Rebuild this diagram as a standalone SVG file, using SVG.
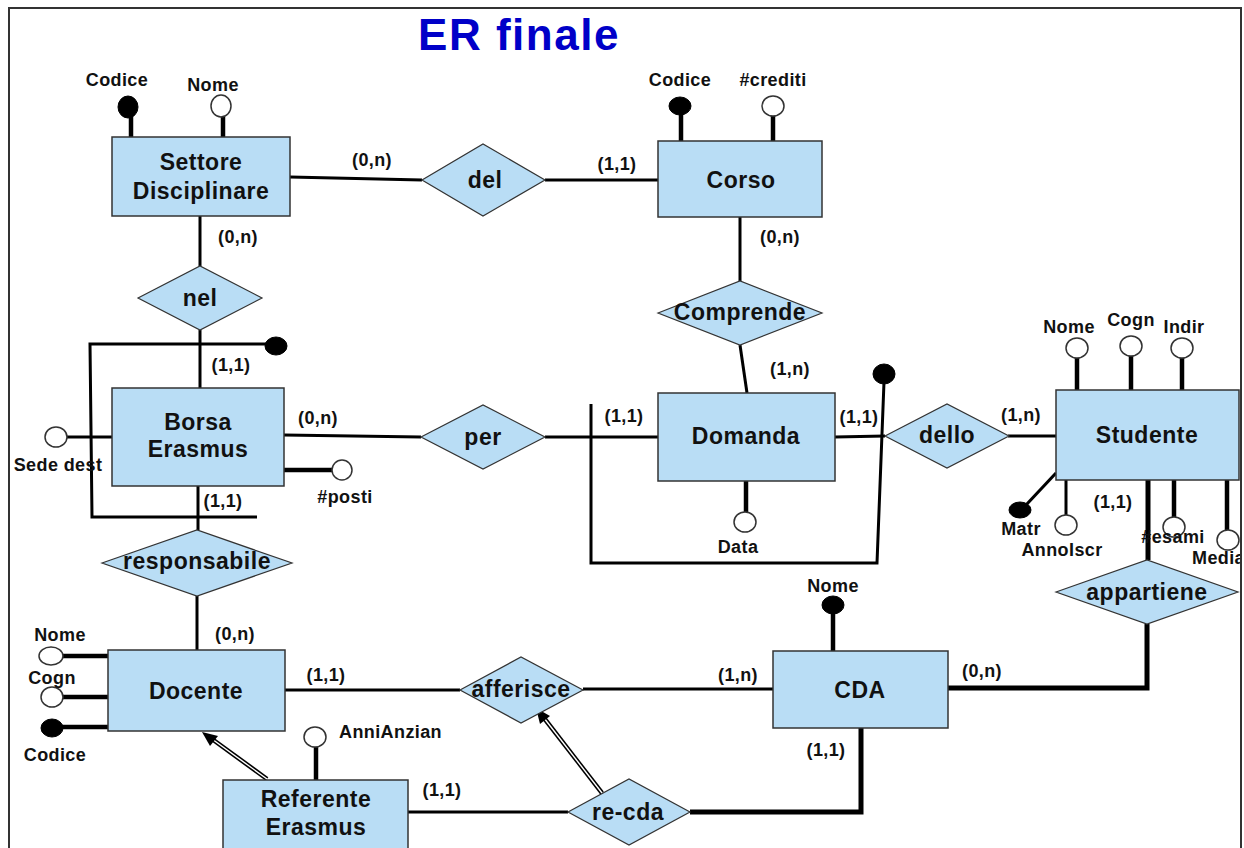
<svg xmlns="http://www.w3.org/2000/svg" width="1244" height="848" viewBox="0 0 1244 848">
<defs>
<style>
.ent{fill:#B9DDF5;stroke:#333;stroke-width:1.5}
.rel{fill:#B9DDF5;stroke:#333;stroke-width:1.2}
.t{font-family:"Liberation Sans",Arial,sans-serif;font-weight:bold;fill:#111;text-anchor:middle}
.big{font-size:23px;letter-spacing:0.5px}
.sm{font-size:18px;letter-spacing:0.4px}
.ln{stroke:#000;stroke-width:3;fill:none}
.thk{stroke:#000;stroke-width:5;fill:none}
.al{stroke:#000;stroke-width:4.5;fill:none}
.op{fill:#fff;stroke:#333;stroke-width:1.5}
.fl{fill:#000;stroke:#000;stroke-width:1}
</style>
<clipPath id="frameclip"><rect x="0" y="0" width="1240" height="848"/></clipPath>
</defs>
<rect x="0" y="0" width="1244" height="848" fill="#fff"/>
<text x="519" y="50" font-family="'Liberation Sans',Arial,sans-serif" font-weight="bold" font-size="44" letter-spacing="1.5" fill="#0000C8" text-anchor="middle">ER finale</text>

<g id="connectors">
<line class="ln" x1="290" y1="177" x2="422" y2="180"/>
<line class="ln" x1="545" y1="180" x2="658" y2="180"/>
<line class="ln" x1="740" y1="217" x2="740" y2="281"/>
<line class="ln" x1="740" y1="345" x2="747" y2="393"/>
<line class="ln" x1="200" y1="216" x2="200" y2="266"/>
<line class="ln" x1="200" y1="330" x2="200" y2="388"/>
<line class="ln" x1="284" y1="435" x2="421" y2="437"/>
<line class="ln" x1="545" y1="437" x2="658" y2="437"/>
<line class="ln" x1="835" y1="437" x2="885" y2="436"/>
<line class="ln" x1="1008" y1="436" x2="1056" y2="436"/>
<line class="ln" x1="198" y1="486" x2="198" y2="530"/>
<line class="ln" x1="197" y1="596" x2="197" y2="650"/>
<line class="ln" x1="284" y1="690" x2="460" y2="690"/>
<line class="ln" x1="583" y1="689" x2="773" y2="689"/>
<line class="ln" x1="408" y1="812" x2="568" y2="812"/>
<line class="thk" x1="1148" y1="480" x2="1148" y2="560"/>
<polyline class="thk" points="1147,624 1147,688 948,688"/>
<polyline class="thk" points="861,728 861,812 690,812"/>
<polyline class="ln" points="275,344 90,344 92,517 257,517"/>
<polyline class="ln" points="591,404 591,563 877,563 884,382"/>
<line x1="267" y1="779" x2="212" y2="739" stroke="#000" stroke-width="4.5"/>
<line x1="267" y1="779" x2="212" y2="739" stroke="#fff" stroke-width="1.4"/>
<polygon points="202,732 218,736 210,746" fill="#000"/>
<line x1="602" y1="793" x2="544" y2="718" stroke="#000" stroke-width="4.5"/>
<line x1="602" y1="793" x2="544" y2="718" stroke="#fff" stroke-width="1.4"/>
<polygon points="536,708 550,716 540,724" fill="#000"/>
</g>

<g id="settore">
<line class="al" x1="131" y1="116" x2="131" y2="137"/>
<ellipse class="fl" cx="128" cy="107" rx="10" ry="11"/>
<line class="al" x1="223" y1="116" x2="223" y2="137"/>
<ellipse class="op" cx="221" cy="106" rx="10" ry="11"/>
<rect class="ent" x="112" y="137" width="178" height="79"/>
<text class="t big" x="201" y="170">Settore</text>
<text class="t big" x="201" y="199">Disciplinare</text>
<text class="t sm" x="117" y="86">Codice</text>
<text class="t sm" x="213" y="91">Nome</text>
</g>

<g id="corso">
<line class="al" x1="681" y1="114" x2="681" y2="141"/>
<ellipse class="fl" cx="680" cy="106" rx="11" ry="9"/>
<line class="al" x1="773" y1="115" x2="773" y2="141"/>
<ellipse class="op" cx="773" cy="106" rx="11" ry="10"/>
<rect class="ent" x="658" y="141" width="164" height="76"/>
<text class="t big" x="741" y="188">Corso</text>
<text class="t sm" x="680" y="86">Codice</text>
<text class="t sm" x="773" y="86">#crediti</text>
</g>

<g id="del">
<polygon class="rel" points="422,180 483,144 545,180 483,216"/>
<text class="t big" x="485" y="188">del</text>
</g>

<g id="nel">
<polygon class="rel" points="138,298 200,266 262,298 200,330"/>
<text class="t big" x="200" y="306">nel</text>
</g>

<g id="comprende">
<polygon class="rel" points="658,313 740,281 822,313 740,345"/>
<text class="t big" x="740" y="320">Comprende</text>
</g>

<g id="borsa">
<line class="ln" x1="67" y1="437" x2="112" y2="437"/>
<ellipse class="op" cx="56" cy="437" rx="11" ry="10"/>
<line class="al" x1="284" y1="470" x2="332" y2="470"/>
<ellipse class="op" cx="342" cy="470" rx="10" ry="10"/>
<ellipse class="fl" cx="276" cy="346" rx="11" ry="9"/>
<rect class="ent" x="112" y="388" width="172" height="98"/>
<text class="t big" x="198" y="430">Borsa</text>
<text class="t big" x="198" y="457">Erasmus</text>
<text class="t sm" x="58" y="471">Sede dest</text>
<text class="t sm" x="345" y="503">#posti</text>
</g>

<g id="per">
<polygon class="rel" points="421,437 483,405 545,437 483,469"/>
<text class="t big" x="483" y="445">per</text>
</g>

<g id="domanda">
<line class="al" x1="746" y1="478" x2="746" y2="512"/>
<ellipse class="op" cx="745" cy="522" rx="11" ry="10"/>
<ellipse class="fl" cx="884" cy="374" rx="11" ry="10"/>
<rect class="ent" x="658" y="393" width="177" height="88"/>
<text class="t big" x="746" y="444">Domanda</text>
<text class="t sm" x="738" y="553">Data</text>
</g>

<g id="dello">
<polygon class="rel" points="885,436 947,404 1009,436 947,468"/>
<text class="t big" x="947" y="443">dello</text>
</g>

<g id="studente">
<line class="al" x1="1077" y1="358" x2="1077" y2="390"/>
<ellipse class="op" cx="1077" cy="348" rx="11" ry="10"/>
<line class="al" x1="1131" y1="356" x2="1131" y2="390"/>
<ellipse class="op" cx="1131" cy="346" rx="11" ry="10"/>
<line class="al" x1="1182" y1="358" x2="1182" y2="390"/>
<ellipse class="op" cx="1182" cy="348" rx="11" ry="10"/>
<line class="ln" x1="1056" y1="473" x2="1026" y2="505"/>
<ellipse class="fl" cx="1020" cy="510" rx="11" ry="8"/>
<line class="ln" x1="1066" y1="480" x2="1066" y2="515"/>
<ellipse class="op" cx="1066" cy="525" rx="11" ry="10"/>
<line class="al" x1="1174" y1="480" x2="1174" y2="517"/>
<ellipse class="op" cx="1174" cy="527" rx="11" ry="10"/>
<line class="al" x1="1227" y1="480" x2="1227" y2="530"/>
<ellipse class="op" cx="1228" cy="540" rx="11" ry="10"/>
<rect class="ent" x="1056" y="390" width="183" height="90"/>
<text class="t big" x="1147" y="443">Studente</text>
<text class="t sm" x="1069" y="333">Nome</text>
<text class="t sm" x="1131" y="326">Cogn</text>
<text class="t sm" x="1184" y="333">Indir</text>
<text class="t sm" x="1021" y="535">Matr</text>
<text class="t sm" x="1062" y="556">AnnoIscr</text>
<text class="t sm" x="1173" y="543">#esami</text>
<text class="t sm" x="1192" y="564" clip-path="url(#frameclip)" style="text-anchor:start">Media</text>
</g>

<g id="responsabile">
<polygon class="rel" points="102,563 197,530 292,563 197,596"/>
<text class="t big" x="197" y="569">responsabile</text>
</g>

<g id="appartiene">
<polygon class="rel" points="1056,592 1147,560 1238,592 1147,624"/>
<text class="t big" x="1147" y="600">appartiene</text>
</g>

<g id="docente">
<line class="al" x1="62" y1="656" x2="108" y2="656"/>
<ellipse class="op" cx="51" cy="656" rx="12" ry="9"/>
<line class="al" x1="63" y1="697" x2="108" y2="697"/>
<ellipse class="op" cx="52" cy="697" rx="11" ry="10"/>
<line class="al" x1="62" y1="727" x2="108" y2="727"/>
<ellipse class="fl" cx="52" cy="728" rx="11" ry="9"/>
<rect class="ent" x="108" y="650" width="177" height="81"/>
<text class="t big" x="196" y="699">Docente</text>
<text class="t sm" x="60" y="641">Nome</text>
<text class="t sm" x="52" y="684">Cogn</text>
<text class="t sm" x="55" y="761">Codice</text>
</g>

<g id="afferisce">
<polygon class="rel" points="460,690 521,657 583,690 521,723"/>
<text class="t big" x="521" y="697">afferisce</text>
</g>

<g id="cda">
<line class="al" x1="833" y1="612" x2="833" y2="651"/>
<ellipse class="fl" cx="833" cy="605" rx="11" ry="9"/>
<rect class="ent" x="773" y="651" width="175" height="77"/>
<text class="t big" x="860" y="698">CDA</text>
<text class="t sm" x="833" y="592">Nome</text>
</g>

<g id="referente">
<line class="al" x1="316" y1="747" x2="316" y2="780"/>
<ellipse class="op" cx="315" cy="737" rx="11" ry="10"/>
<rect class="ent" x="223" y="780" width="185" height="80"/>
<text class="t big" x="316" y="807">Referente</text>
<text class="t big" x="316" y="835">Erasmus</text>
<text class="t sm" x="339" y="738" style="text-anchor:start">AnniAnzian</text>
</g>

<g id="recda">
<polygon class="rel" points="568,812 629,779 690,812 629,845"/>
<text class="t big" x="628" y="820">re-cda</text>
</g>

<g id="cardinalities">
<text class="t sm" x="372" y="166">(0,n)</text>
<text class="t sm" x="617" y="170">(1,1)</text>
<text class="t sm" x="238" y="243">(0,n)</text>
<text class="t sm" x="780" y="243">(0,n)</text>
<text class="t sm" x="790" y="375">(1,n)</text>
<text class="t sm" x="231" y="371">(1,1)</text>
<text class="t sm" x="318" y="424">(0,n)</text>
<text class="t sm" x="624" y="422">(1,1)</text>
<text class="t sm" x="859" y="423">(1,1)</text>
<text class="t sm" x="1021" y="421">(1,n)</text>
<text class="t sm" x="223" y="507">(1,1)</text>
<text class="t sm" x="1113" y="508">(1,1)</text>
<text class="t sm" x="235" y="640">(0,n)</text>
<text class="t sm" x="326" y="681">(1,1)</text>
<text class="t sm" x="738" y="681">(1,n)</text>
<text class="t sm" x="982" y="677">(0,n)</text>
<text class="t sm" x="826" y="756">(1,1)</text>
<text class="t sm" x="442" y="796">(1,1)</text>
</g>
<rect x="9" y="8" width="1232" height="870" fill="none" stroke="#333" stroke-width="2"/>
</svg>
